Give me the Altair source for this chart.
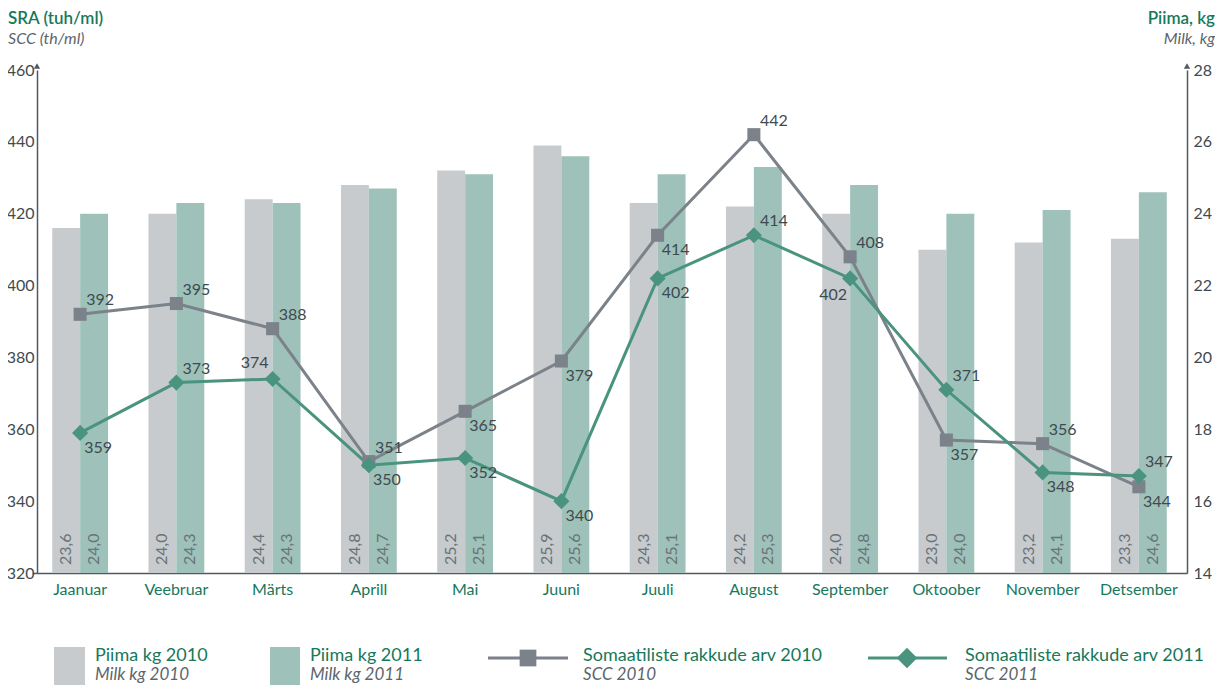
import altair as alt
import pandas as pd

months = ["Jaanuar", "Veebruar", "Märts", "Aprill", "Mai", "Juuni",
          "Juuli", "August", "September", "Oktoober", "November", "Detsember"]
milk_2010 = [23.6, 24.0, 24.4, 24.8, 25.2, 25.9, 24.3, 24.2, 24.0, 23.0, 23.2, 23.3]
milk_2011 = [24.0, 24.3, 24.3, 24.7, 25.1, 25.6, 25.1, 25.3, 24.8, 24.0, 24.1, 24.6]
scc_2010 = [392, 395, 388, 351, 365, 379, 414, 442, 408, 357, 356, 344]
scc_2011 = [359, 373, 374, 350, 352, 340, 402, 414, 402, 371, 348, 347]
# label placement codes: u/l = upper/lower, r/l = right/left of the point
place_2010 = ["ur", "ur", "ur", "ur", "lr", "lr", "lr", "ur", "ur", "lr", "ur", "lr"]
place_2011 = ["lr", "ur", "ul", "lr", "lr", "lr", "lr", "ur", "ll", "ur", "lr", "ur"]
left_ticks = [320, 340, 360, 380, 400, 420, 440, 460]
right_ticks = [14, 16, 18, 20, 22, 24, 26, 28]

bars_df = pd.DataFrame({
    "month": months * 2,
    "year": ["2010"] * 12 + ["2011"] * 12,
    "milk": milk_2010 + milk_2011,
})
lines_df = pd.DataFrame({
    "month": months * 2,
    "series": ["2010"] * 12 + ["2011"] * 12,
    "scc": scc_2010 + scc_2011,
    "place": place_2010 + place_2011,
})

FONT = "Lato"
GREEN = "#17785b"
AXIS = "#4f5a60"
LABEL = "#3f4a50"
ITAL = "#5d656b"
BAR10 = "#c7cbce"
BAR11 = "#9ec2b9"
LINE10 = "#7b8289"
LINE11 = "#4a937f"

W, H = 1155, 503
PL = 24  # left padding
ox = 8 + PL  # page x of plot origin
oy = 70      # page y of plot origin

x_enc = alt.X("month:N", sort=months,
              scale=alt.Scale(paddingInner=0.42, paddingOuter=0.21),
              axis=alt.Axis(title=None, labelAngle=0, labelColor=GREEN, labelFontSize=16,
                            labelFont=FONT, ticks=False, domainColor=AXIS, domainWidth=1.5,
                            labelPadding=8, grid=False))
xoff = alt.XOffset("year:N", scale=alt.Scale(domain=["2010", "2011"], paddingInner=0, paddingOuter=0))

bar_base = alt.Chart(bars_df)
bars = bar_base.mark_bar().encode(
    x=x_enc,
    xOffset=xoff,
    y=alt.Y("milk:Q", scale=alt.Scale(domain=[14, 28], nice=False, zero=False),
            axis=alt.Axis(orient="right", values=right_ticks, title=None,
                          offset=1187 - (ox + W),
                          labelFontSize=16, labelFont=FONT, labelColor=LABEL, ticks=False,
                          domainColor=AXIS, domainWidth=1.5, grid=False, labelPadding=6)),
    y2=alt.datum(14),
    color=alt.Color("year:N", scale=alt.Scale(domain=["2010", "2011"], range=[BAR10, BAR11]),
                    legend=None),
)
bar_text = bar_base.transform_calculate(
    label="replace(format(datum.milk, '.1f'), '.', ',')"
).mark_text(angle=270, align="left", baseline="middle", fontSize=16, font=FONT,
            color="#6a7378").encode(
    x=x_enc, xOffset=xoff, y=alt.value(H - 8), text="label:N")

right_layer = alt.layer(bars, bar_text)

line_base = alt.Chart(lines_df)
y_left = alt.Y("scc:Q", scale=alt.Scale(domain=[320, 460], nice=False, zero=False),
               axis=alt.Axis(orient="left", values=left_ticks, title=None, offset=ox - 37,
                             labelFontSize=16, labelFont=FONT, labelColor=LABEL, ticks=False,
                             domainColor=AXIS, domainWidth=1.5, grid=False, labelPadding=3))
col = alt.Color("series:N", scale=alt.Scale(domain=["2010", "2011"], range=[LINE10, LINE11]),
                legend=None)
lines = line_base.mark_line(strokeWidth=3).encode(x=x_enc, y=y_left, color=col)
points = line_base.mark_point(filled=True, opacity=1).encode(
    x=x_enc, y=y_left, color=col,
    shape=alt.Shape("series:N", scale=alt.Scale(domain=["2010", "2011"],
                                                range=["square", "diamond"]), legend=None),
    size=alt.Size("series:N", scale=alt.Scale(domain=["2010", "2011"], range=[170, 260]),
                  legend=None),
)
offsets = {"ur": (6, -14, "left"), "lr": (4, 15, "left"),
           "ul": (-4, -16, "right"), "ll": (-3, 17, "right")}
label_layers = []
for code, (dx, dy, al) in offsets.items():
    label_layers.append(
        line_base.transform_filter(alt.datum.place == code).mark_text(
            dx=dx, dy=dy, align=al, baseline="middle", fontSize=16, font=FONT, color=LABEL
        ).encode(x=x_enc, y=y_left, text="scc:Q")
    )
left_layer = alt.layer(lines, points, *label_layers)

one = pd.DataFrame({"a": [0]})


def txt(s, x, y, size, color, align="left", style="normal", weight="normal"):
    return alt.Chart(one).mark_text(text=s, align=align, baseline="middle", fontSize=size,
                                    font=FONT, color=color, fontStyle=style,
                                    fontWeight=weight).encode(x=alt.value(x), y=alt.value(y))


def px(x):
    return x - ox


def py(y):
    return y - oy


axl = 37 - ox
axr = 1187 - ox

deco = [
    # axis titles
    txt("SRA (tuh/ml)", px(8), py(19), 17, GREEN, weight=600),
    txt("SCC (th/ml)", px(8), py(39), 16, ITAL, style="italic"),
    txt("Piima, kg", px(1215), py(19), 17, GREEN, align="right", weight=600),
    txt("Milk, kg", px(1215), py(39), 16, ITAL, align="right", style="italic"),
    # arrowheads
    alt.Chart(one).mark_point(shape="triangle-up", filled=True, size=40, color=AXIS, opacity=1)
    .encode(x=alt.value(axl), y=alt.value(-4)),
    alt.Chart(one).mark_point(shape="triangle-up", filled=True, size=40, color=AXIS, opacity=1)
    .encode(x=alt.value(axr), y=alt.value(-4)),
    # legend swatches
    alt.Chart(one).mark_rect(color=BAR10).encode(x=alt.value(px(54)), x2=alt.value(px(85)),
                                                 y=alt.value(py(647)), y2=alt.value(py(695))),
    alt.Chart(one).mark_rect(color=BAR11).encode(x=alt.value(px(270)), x2=alt.value(px(300)),
                                                 y=alt.value(py(647)), y2=alt.value(py(695))),
    alt.Chart(one).mark_rule(color=LINE10, strokeWidth=3).encode(
        x=alt.value(px(488)), x2=alt.value(px(568)), y=alt.value(py(658))),
    alt.Chart(one).mark_point(shape="square", filled=True, size=280, color=LINE10, opacity=1)
    .encode(x=alt.value(px(528)), y=alt.value(py(658))),
    alt.Chart(one).mark_rule(color=LINE11, strokeWidth=3).encode(
        x=alt.value(px(868)), x2=alt.value(px(947)), y=alt.value(py(658))),
    alt.Chart(one).mark_point(shape="diamond", filled=True, size=420, color=LINE11, opacity=1)
    .encode(x=alt.value(px(907)), y=alt.value(py(658))),
    # legend texts
    txt("Piima kg 2010", px(95), py(656), 18, GREEN),
    txt("Milk kg 2010", px(95), py(675), 17, ITAL, style="italic"),
    txt("Piima kg 2011", px(310), py(656), 18, GREEN),
    txt("Milk kg 2011", px(310), py(675), 17, ITAL, style="italic"),
    txt("Somaatiliste rakkude arv 2010", px(583), py(656), 18, GREEN),
    txt("SCC 2010", px(583), py(675), 17, ITAL, style="italic"),
    txt("Somaatiliste rakkude arv 2011", px(965), py(656), 18, GREEN),
    txt("SCC 2011", px(965), py(675), 17, ITAL, style="italic"),
]

chart = alt.layer(right_layer, left_layer, *deco).resolve_scale(
    y="independent", color="independent"
).properties(
    width=W, height=H,
    padding={"left": PL, "top": 62, "right": 1223 - 16 - PL - W, "bottom": 112},
    autosize=alt.AutoSizeParams(type="none"),
).configure_view(stroke=None)

chart.save("out.html", embed_options={"renderer": "svg", "actions": False})
